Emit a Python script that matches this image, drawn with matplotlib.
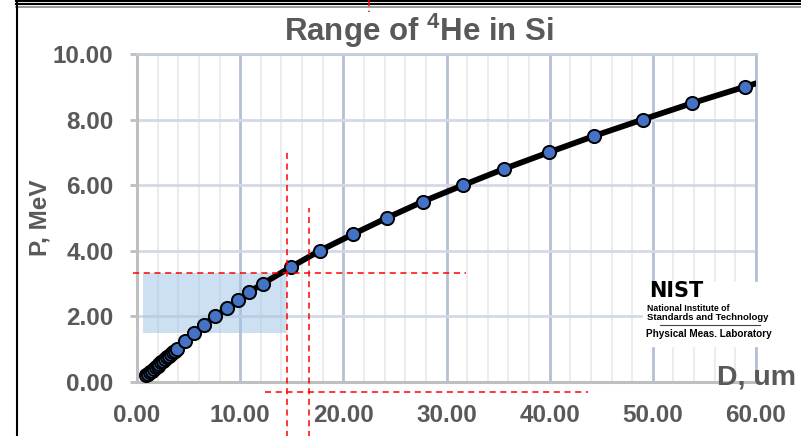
import matplotlib
matplotlib.use("Agg")
import matplotlib.pyplot as plt
from matplotlib.lines import Line2D
from matplotlib.patches import Rectangle

# range D (um) vs energy P (MeV)
depth_um = [0.85, 1.04, 1.23, 1.42, 1.61, 1.80, 1.99, 2.18, 2.37, 2.55, 2.74, 2.92,
            3.11, 3.29, 3.48, 3.66, 3.85, 4.65, 5.5, 6.5, 7.56, 8.7, 9.8, 10.9,
            12.2, 14.9, 17.7, 20.9, 24.2, 27.7, 31.6, 35.6, 39.9, 44.3, 49.0,
            53.8, 58.9, 64.2]
energy_mev = [0.20, 0.25, 0.30, 0.35, 0.40, 0.45, 0.50, 0.55, 0.60, 0.65, 0.70, 0.75,
              0.80, 0.85, 0.90, 0.95, 1.00, 1.25, 1.50, 1.75, 2.00, 2.25, 2.50, 2.75,
              3.00, 3.50, 4.00, 4.50, 5.00, 5.50, 6.00, 6.50, 7.00, 7.50, 8.00,
              8.50, 9.00, 9.50]

x_ticks = [0, 10, 20, 30, 40, 50, 60]
y_ticks = [0, 2, 4, 6, 8, 10]

# red dashed guide lines and the shaded box (data units)
guide_h = [(-0.4, 31.9, 3.32), (12.4, 43.7, -0.30)]
guide_v = [(14.53, -1.7, 7.07), (16.67, -1.7, 5.30)]
shade_x = (0.58, 14.53)
shade_y = (1.49, 3.32)

W, H = 801, 436
GREY = '#595959'
FONT = ['Liberation Sans', 'DejaVu Sans']

plt.rcParams['font.family'] = FONT
plt.rcParams['font.weight'] = 'bold'
plt.rcParams['mathtext.fontset'] = 'custom'
for k in ['rm', 'it', 'bf']:
    plt.rcParams['mathtext.' + k] = 'Liberation Sans:bold'

fig = plt.figure(figsize=(W / 100, H / 100), dpi=100)
fig.patch.set_facecolor('white')


def fx(x):
    return x / W


def fy(y):
    return 1 - y / H


ax = fig.add_axes([fx(137), fy(382), fx(756) - fx(137), fy(54) - fy(382)])
ax.set_xlim(0, 60)
ax.set_ylim(0, 10)

# grid
ax.set_xticks(x_ticks)
ax.set_yticks(y_ticks)
ax.set_xticks([x for x in range(0, 61, 2) if x % 10], minor=True)
ax.grid(which='minor', axis='x', color='#ececec', lw=1.5)
ax.grid(which='major', axis='x', color='#b4c0d4', lw=2)
ax.grid(which='major', axis='y', color='#d3dae6', lw=2)
ax.set_axisbelow(True)

for s in ['top', 'right']:
    ax.spines[s].set_color('#c3cddb')
    ax.spines[s].set_linewidth(2)
ax.spines['right'].set_color('#b4c0d4')
for s in ['left', 'bottom']:
    ax.spines[s].set_color('#bfbfbf')
    ax.spines[s].set_linewidth(2.2)

ax.tick_params(axis='y', which='major', length=5, width=2, color='#bfbfbf',
               pad=12, labelsize=17.5, labelcolor=GREY)
ax.tick_params(axis='x', which='both', length=0, pad=16, labelsize=17.5, labelcolor=GREY)
ax.set_xticklabels([f'{v:.2f}' for v in x_ticks])
ax.set_yticklabels([f'{v:.2f}' for v in y_ticks])

ax.add_patch(Rectangle((shade_x[0], shade_y[0]), shade_x[1] - shade_x[0],
                       shade_y[1] - shade_y[0], color='#9dc3e6', alpha=0.5,
                       lw=0, zorder=1.5))

ax.plot(depth_um, energy_mev, color='black', lw=4.2, zorder=3,
        marker='o', ms=9.5, mfc='#4472c4', mec='black', mew=1.4)

for x0, x1, y in guide_h:
    ax.plot([x0, x1], [y, y], color='red', lw=1.1, ls=(0, (4, 3)),
            clip_on=False, zorder=4)
for x, y0, y1 in guide_v:
    ax.plot([x, x], [y0, y1], color='red', lw=1.1, ls=(0, (4, 3)),
            clip_on=False, zorder=4)

# titles and labels
fig.text(fx(419), fy(31), 'Range of $^{4}$He in Si', ha='center', va='center',
         fontsize=22.5, color=GREY, weight='bold')
fig.text(fx(40), fy(218), 'P, MeV', rotation=90, ha='center', va='center',
         fontsize=17.5, color=GREY, weight='bold')
fig.text(fx(796), fy(384), 'D, um', ha='right', va='baseline',
         fontsize=20.5, color=GREY, weight='bold', zorder=5)

# NIST logo block
fig.patches.append(Rectangle((fx(643), fy(346)), fx(792) - fx(643), fy(282) - fy(346),
                             transform=fig.transFigure, color='white', zorder=5))
fig.text(fx(649), fy(297), 'NIST', fontsize=15, weight='heavy', color='black',
         family='DejaVu Sans', va='baseline', zorder=6)
fig.text(fx(647), fy(311), 'National Institute of', fontsize=6.3, color='black',
         va='baseline', zorder=6)
fig.text(fx(647), fy(320), 'Standards and Technology', fontsize=6.8, color='black',
         va='baseline', zorder=6)
fig.add_artist(Line2D([fx(660), fx(760)], [fy(325), fy(325)], color='#444444',
                      lw=0.8, zorder=6))
fig.text(fx(646), fy(337), 'Physical Meas. Laboratory', fontsize=7.2, color='black',
         va='baseline', zorder=6)

# outer frame lines
for y, c, lw in [(1.5, 'black', 1.5), (4.5, 'black', 1.5), (7, '#888888', 1.2)]:
    fig.add_artist(Line2D([fx(16), 1], [fy(y), fy(y)], color=c, lw=lw))
fig.add_artist(Line2D([fx(16.5), fx(16.5)], [0, 1], color='black', lw=1.5))
fig.add_artist(Line2D([fx(369), fx(369)], [fy(0), fy(12)], color='red', lw=1.1,
                      ls=(0, (4, 3))))

fig.savefig('out.png', dpi=100)
